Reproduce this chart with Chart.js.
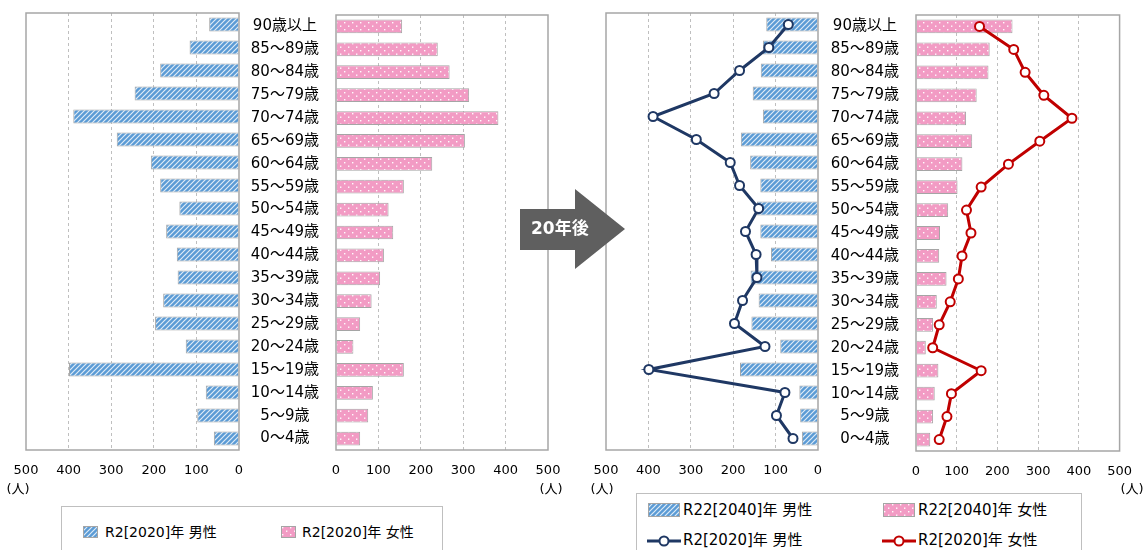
<!DOCTYPE html>
<html lang="ja">
<head>
<meta charset="utf-8">
<title>人口ピラミッド R2[2020]年 / R22[2040]年</title>
<script src="https://cdn.jsdelivr.net/npm/chart.js@4.4.1/dist/chart.umd.min.js"></script>
<style>
  html, body { margin: 0; padding: 0; background: #fff; }
  #wrap {
    position: relative; width: 1145px; height: 550px; overflow: hidden; background: #fff;
    font-family: "DejaVu Sans", "Noto Sans CJK JP", sans-serif; color: #000;
  }
  #wrap canvas { position: absolute; }
  .unit { position: absolute; font-size: 13px; line-height: 16px; white-space: nowrap; transform: translateX(-50%); }
  .legend-box { position: absolute; border: 1px solid #BFBFBF; background: #fff; box-sizing: border-box; }
  .leg-text { position: absolute; white-space: nowrap; }
  .arrow {
    position: absolute; left: 520px; top: 189px; width: 105px; height: 80px; background: #5F5F5F;
    clip-path: polygon(0 20px, 55px 20px, 55px 0, 105px 40px, 55px 80px, 55px 61px, 0 61px);
  }
  .arrow-text {
    position: absolute; left: 531px; top: 216px; line-height: 24px; font-size: 17px; font-weight: bold;
    color: #fff; white-space: nowrap;
  }
</style>
</head>
<body>
<div id="wrap">
  <canvas id="m2020"></canvas>
  <canvas id="f2020"></canvas>
  <canvas id="m2040"></canvas>
  <canvas id="f2040"></canvas>

  <div class="unit" style="left:18px;top:481px">(人)</div>
  <div class="unit" style="left:551px;top:481px">(人)</div>
  <div class="unit" style="left:602px;top:481px">(人)</div>
  <div class="unit" style="left:1132px;top:481px">(人)</div>

  <div class="arrow"></div>
  <div class="arrow-text">20年後</div>

  <div class="legend-box" style="left:61px;top:506px;width:382px;height:60px"></div>
  <canvas id="lgM20" style="left:83px;top:526px" width="15" height="12"></canvas>
  <div class="leg-text" style="left:105px;top:522px;font-size:14px;line-height:20px">R2[2020]年 男性</div>
  <canvas id="lgF20" style="left:281px;top:526px" width="15" height="12"></canvas>
  <div class="leg-text" style="left:302px;top:522px;font-size:14px;line-height:20px">R2[2020]年 女性</div>

  <div class="legend-box" style="left:636px;top:493px;width:446px;height:70px"></div>
  <canvas id="lgM40" style="left:648px;top:503px" width="32" height="14"></canvas>
  <div class="leg-text" style="left:683px;top:499px;font-size:15px;line-height:22px">R22[2040]年 男性</div>
  <canvas id="lgF40" style="left:883px;top:503px" width="32" height="14"></canvas>
  <div class="leg-text" style="left:918px;top:499px;font-size:15px;line-height:22px">R22[2040]年 女性</div>
  <canvas id="lgLM" style="left:646px;top:533px" width="36" height="16"></canvas>
  <div class="leg-text" style="left:683px;top:529px;font-size:15px;line-height:22px">R2[2020]年 男性</div>
  <canvas id="lgLF" style="left:881px;top:533px" width="36" height="16"></canvas>
  <div class="leg-text" style="left:918px;top:529px;font-size:15px;line-height:22px">R2[2020]年 女性</div>
</div>

<script>
// Age groups, oldest at the top
const ageGroups = ['90歳以上', '85～89歳', '80～84歳', '75～79歳', '70～74歳', '65～69歳',
  '60～64歳', '55～59歳', '50～54歳', '45～49歳', '40～44歳', '35～39歳', '30～34歳',
  '25～29歳', '20～24歳', '15～19歳', '10～14歳', '5～9歳', '0～4歳'];

// Population (人) by age group
const male2020   = [70, 116, 185, 245, 389, 287, 207, 185, 140, 171, 146, 144, 178, 197, 125, 399, 78, 98, 59];
const female2020 = [156, 240, 268, 314, 383, 304, 227, 160, 124, 135, 113, 104, 84, 57, 41, 160, 87, 76, 57];
const male2040   = [122, 130, 135, 154, 130, 182, 160, 136, 144, 136, 111, 159, 140, 157, 89, 184, 44, 42, 38];
const female2040 = [237, 181, 178, 149, 123, 138, 114, 102, 79, 59, 57, 75, 51, 42, 24, 55, 46, 42, 35];

// Axis ticks (人)
const popTicks = [0, 100, 200, 300, 400, 500];

const LATIN_CJK = '"DejaVu Sans", "Noto Sans CJK JP", sans-serif';
const NAVY = '#1F3864';
const RED = '#C00000';
const FRAME = '#A6A6A6';

// Fill patterns: diagonal hatch for men, polka dots for women
function makeHatch() {
  const t = document.createElement('canvas');
  t.width = 5; t.height = 5;
  const g = t.getContext('2d');
  g.fillStyle = '#5B9BD5';
  g.fillRect(0, 0, 5, 5);
  g.strokeStyle = 'rgba(255,255,255,0.8)';
  g.lineWidth = 1.2;
  g.beginPath();
  g.moveTo(-1, 6); g.lineTo(6, -1);
  g.moveTo(-1, 1); g.lineTo(1, -1);
  g.moveTo(4, 6); g.lineTo(6, 4);
  g.stroke();
  return g.createPattern(t, 'repeat');
}
function makeDots() {
  const t = document.createElement('canvas');
  t.width = 8; t.height = 7;
  const g = t.getContext('2d');
  g.fillStyle = '#F29BC4';
  g.fillRect(0, 0, 8, 7);
  g.fillStyle = 'rgba(255,255,255,0.95)';
  g.fillRect(1, 1, 1.4, 1.4);
  g.fillRect(5, 4.5, 1.4, 1.4);
  return g.createPattern(t, 'repeat');
}
const hatch = makeHatch();
const dots = makeDots();

// Solid grey frame round each plot area
const framePlugin = {
  id: 'plotFrame',
  afterDatasetsDraw(chart) {
    const { ctx, chartArea: a } = chart;
    ctx.save();
    ctx.strokeStyle = FRAME;
    ctx.lineWidth = 1.5;
    ctx.strokeRect(a.left, a.top, a.right - a.left, a.bottom - a.top);
    ctx.restore();
  }
};

function barSet(label, data, fill) {
  return {
    type: 'bar', label, data, backgroundColor: fill, borderColor: '#A5A5A5', borderWidth: 1,
    barPercentage: 0.6, categoryPercentage: 1.0, order: 2
  };
}
function lineSet(label, data, color) {
  return {
    type: 'line', label, data, borderColor: color, borderWidth: 3, backgroundColor: '#fff',
    pointRadius: 4.5, pointBorderWidth: 2, pointBackgroundColor: '#fff', pointBorderColor: color,
    tension: 0, order: 0
  };
}

// box: canvas rect on the page; area: plot area edges on the page
function panel(id, box, area, opts) {
  const cv = document.getElementById(id);
  cv.width = box.w; cv.height = box.h;
  cv.style.left = box.x + 'px'; cv.style.top = box.y + 'px';
  const labelW = area.l - box.x;
  return new Chart(cv, {
    type: 'bar',
    data: { labels: ageGroups, datasets: opts.datasets },
    options: {
      responsive: false, animation: false, indexAxis: 'y',
      layout: { padding: { left: opts.labels ? 0 : labelW, right: box.x + box.w - area.r, top: area.t - box.y, bottom: 0 } },
      plugins: { legend: { display: false }, tooltip: { enabled: false } },
      scales: {
        x: {
          type: 'linear', min: 0, max: 500, reverse: opts.reverse,
          afterBuildTicks(s) { s.ticks = popTicks.map(v => ({ value: v })); },
          afterFit(s) { s.height = box.y + box.h - area.b; },
          grid: {
            drawTicks: false, lineWidth: 1,
            color: c => (c.tick && (c.tick.value === 0 || c.tick.value === 500)) ? 'rgba(0,0,0,0)' : '#BFBFBF'
          },
          border: { display: false, dash: [3, 3] },
          ticks: { padding: 13, color: '#000', font: { family: LATIN_CJK, size: 13 } }
        },
        y: {
          display: !!opts.labels,
          afterFit(s) {
            if (!opts.labels) return;
            // the label column fills the gap between the two plot areas
            s.width = labelW;
            s.paddingTop = 0;
            s.paddingBottom = 0;
          },
          grid: { display: false, drawTicks: false },
          border: { display: false },
          ticks: { crossAlign: 'center', padding: 17, color: '#000', font: { family: LATIN_CJK, size: 15 } }
        }
      }
    },
    plugins: [framePlugin]
  });
}

// R2[2020]
panel('m2020', { x: 0, y: 0, w: 250, h: 500 }, { l: 26, r: 239, t: 13, b: 450 },
  { reverse: true, datasets: [barSet('R2[2020]年 男性', male2020, hatch)] });
panel('f2020', { x: 239, y: 0, w: 336, h: 500 }, { l: 336, r: 548, t: 15, b: 450 },
  { labels: true, datasets: [barSet('R2[2020]年 女性', female2020, dots)] });

// R22[2040] with R2[2020] as lines
panel('m2040', { x: 585, y: 0, w: 240, h: 500 }, { l: 606, r: 818, t: 13, b: 450 },
  { reverse: true, datasets: [barSet('R22[2040]年 男性', male2040, hatch), lineSet('R2[2020]年 男性', male2020, NAVY)] });
panel('f2040', { x: 818, y: 0, w: 327, h: 500 }, { l: 916, r: 1128, t: 15, b: 451 },
  { labels: true, datasets: [barSet('R22[2040]年 女性', female2040, dots), lineSet('R2[2020]年 女性', female2020, RED)] });

// Legend swatches
function swatch(id, fill) {
  const c = document.getElementById(id), g = c.getContext('2d');
  g.fillStyle = fill; g.fillRect(0, 0, c.width, c.height);
  g.strokeStyle = '#A5A5A5'; g.lineWidth = 1; g.strokeRect(0.5, 0.5, c.width - 1, c.height - 1);
}
function lineSwatch(id, color) {
  const c = document.getElementById(id), g = c.getContext('2d');
  const cy = c.height / 2;
  g.strokeStyle = color; g.lineWidth = 3;
  g.beginPath(); g.moveTo(1, cy); g.lineTo(c.width - 1, cy); g.stroke();
  g.fillStyle = '#fff'; g.lineWidth = 2;
  g.beginPath(); g.arc(c.width / 2, cy, 4.5, 0, Math.PI * 2); g.fill(); g.stroke();
}
swatch('lgM20', hatch); swatch('lgF20', dots);
swatch('lgM40', hatch); swatch('lgF40', dots);
lineSwatch('lgLM', NAVY); lineSwatch('lgLF', RED);
</script>
</body>
</html>
